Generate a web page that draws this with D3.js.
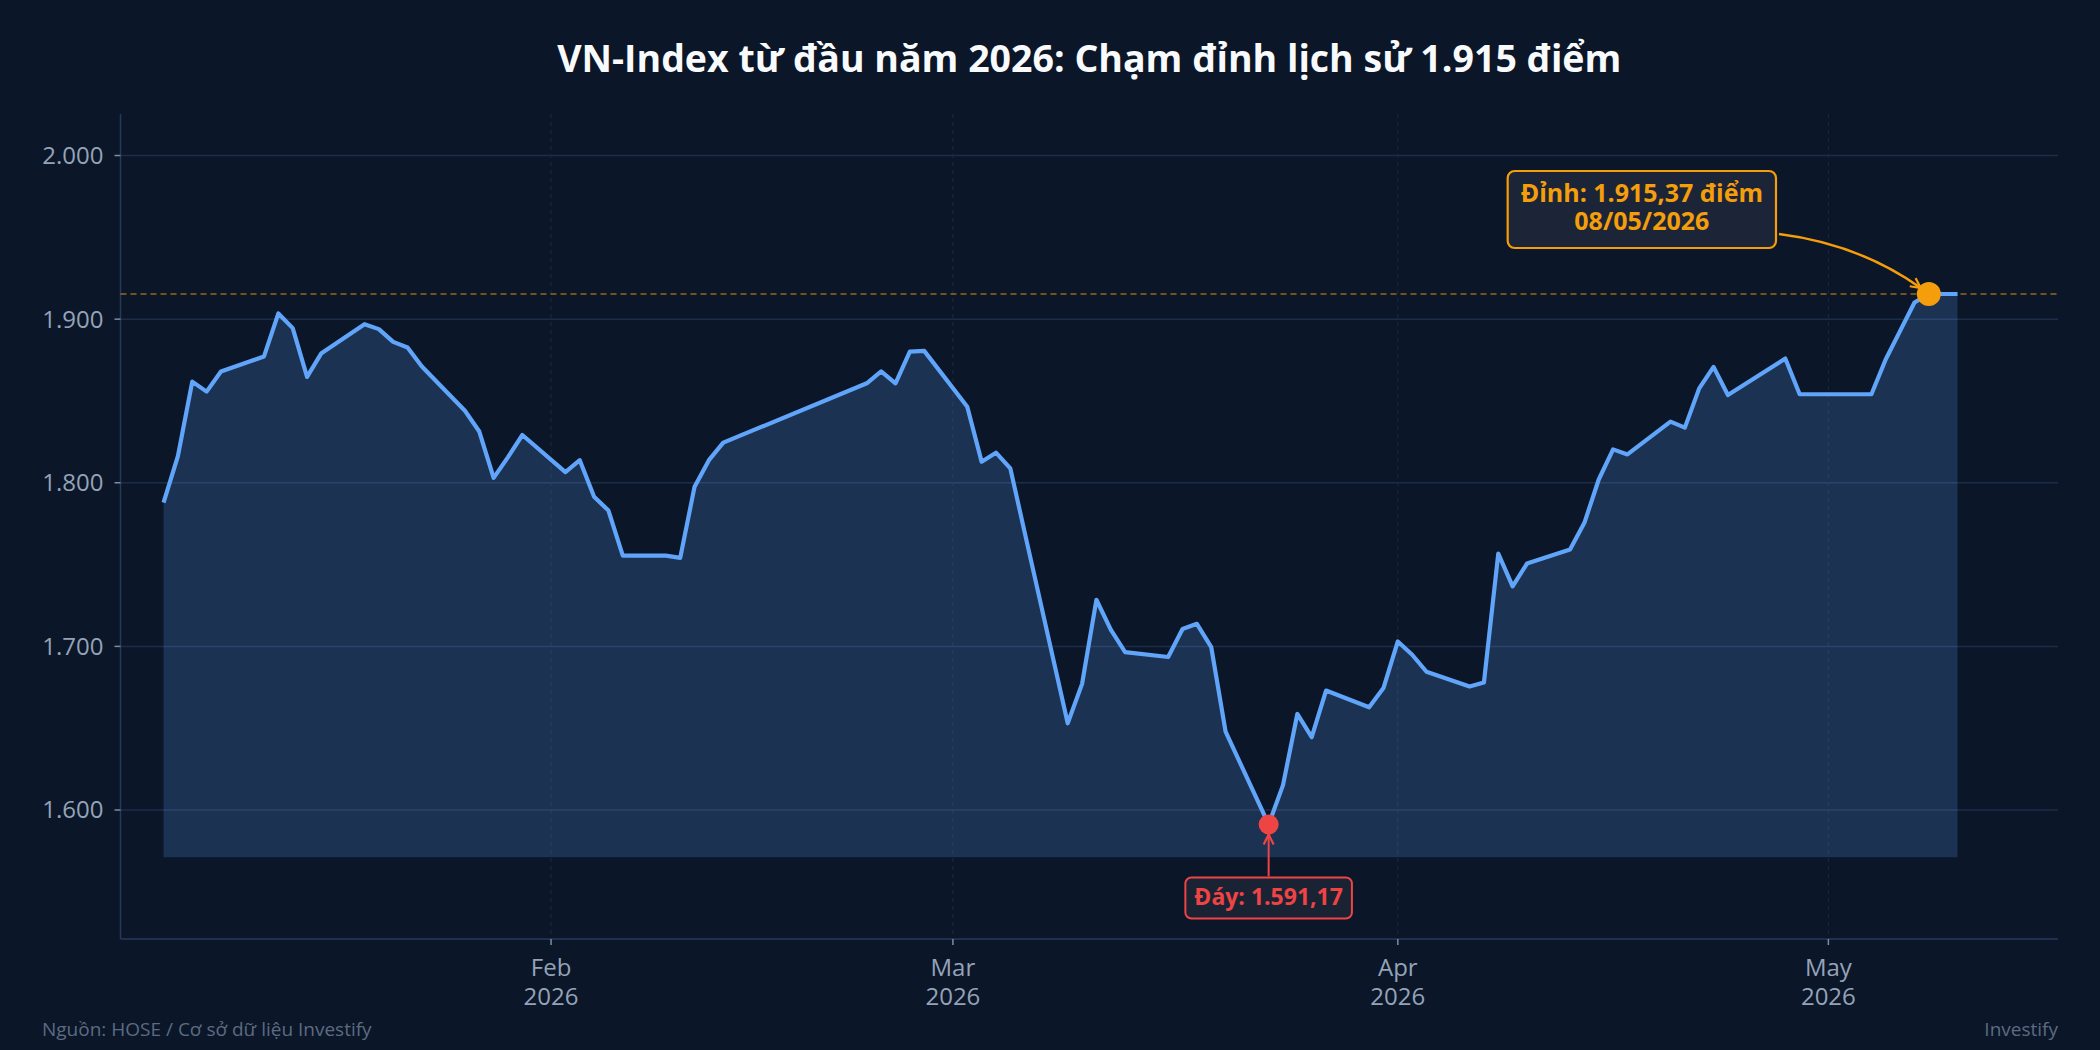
<!DOCTYPE html>
<html>
<head>
<meta charset="utf-8">
<script src="https://cdn.jsdelivr.net/npm/d3@7"></script>
<style>
  html, body { margin: 0; padding: 0; background: #0b1628; }
  svg { display: block; font-family: "Open Sans", "Noto Sans", sans-serif; }
</style>
</head>
<body>
<svg id="chart" width="2100" height="1050"></svg>
<script>
// VN-Index closing values, trading days only
const dates = [
  '2026-01-05', '2026-01-06', '2026-01-07', '2026-01-08', '2026-01-09',
  '2026-01-12', '2026-01-13', '2026-01-14', '2026-01-15', '2026-01-16',
  '2026-01-19', '2026-01-20', '2026-01-21', '2026-01-22', '2026-01-23',
  '2026-01-26', '2026-01-27', '2026-01-28', '2026-01-29', '2026-01-30',
  '2026-02-02', '2026-02-03', '2026-02-04', '2026-02-05', '2026-02-06',
  '2026-02-09', '2026-02-10', '2026-02-11', '2026-02-12', '2026-02-13',
  '2026-02-23', '2026-02-24', '2026-02-25', '2026-02-26', '2026-02-27',
  '2026-03-02', '2026-03-03', '2026-03-04', '2026-03-05', '2026-03-06',
  '2026-03-09', '2026-03-10', '2026-03-11', '2026-03-12', '2026-03-13',
  '2026-03-16', '2026-03-17', '2026-03-18', '2026-03-19', '2026-03-20',
  '2026-03-23', '2026-03-24', '2026-03-25', '2026-03-26', '2026-03-27',
  '2026-03-30', '2026-03-31', '2026-04-01', '2026-04-02', '2026-04-03',
  '2026-04-06', '2026-04-07', '2026-04-08', '2026-04-09', '2026-04-10',
  '2026-04-13', '2026-04-14', '2026-04-15', '2026-04-16', '2026-04-17',
  '2026-04-20', '2026-04-21', '2026-04-22', '2026-04-23', '2026-04-24',
  '2026-04-28', '2026-04-29',
  '2026-05-04', '2026-05-05', '2026-05-06', '2026-05-07', '2026-05-08',
  '2026-05-10'
];

const values = [
  1787.8, 1816.3, 1861.8, 1855.7, 1868.0,
  1877.2, 1903.5, 1894.5, 1864.7, 1879.2,
  1896.9, 1893.9, 1886.1, 1882.7, 1871.0,
  1844.0, 1831.3, 1803.0, 1815.7, 1829.2,
  1806.5, 1813.8, 1791.5, 1783.0, 1755.5,
  1755.5, 1754.1, 1797.6, 1813.8, 1824.5,
  1860.8, 1868.0, 1860.8, 1880.2, 1880.6,
  1846.5, 1812.9, 1818.4, 1808.8, 1769.7,
  1653.0, 1677.1, 1728.5, 1710.2, 1696.5,
  1693.5, 1710.6, 1713.8, 1699.6, 1647.9,
  1591.17, 1615.2, 1658.7, 1644.5, 1673.0,
  1662.8, 1674.5, 1703.0, 1694.9, 1684.5,
  1675.5, 1677.9, 1756.7, 1736.7, 1750.6,
  1759.2, 1775.5, 1802.0, 1820.4, 1817.3,
  1837.4, 1833.7, 1857.7, 1870.8, 1853.6,
  1875.9, 1854.1,
  1854.1, 1875.5, 1892.8, 1910.2, 1915.37,
  1915.37
];

const yTicks = [1600, 1700, 1800, 1900, 2000];
const monthTicks = ['2026-02-01', '2026-03-01', '2026-04-01', '2026-05-01'];

const peakDate = '2026-05-08';
const peakValue = 1915.37;
const troughDate = '2026-03-23';
const troughValue = 1591.17;

const titleText = 'VN-Index từ đầu năm 2026: Chạm đỉnh lịch sử 1.915 điểm';
const sourceText = 'Nguồn: HOSE / Cơ sở dữ liệu Investify';
const brandText = 'Investify';

// ---------------------------------------------------------------

const width = 2100;
const height = 1050;
const margin = { top: 114, right: 42, bottom: 111, left: 120.5 };

const parse = d3.timeParse('%Y-%m-%d');
const vn = d3.formatLocale({ decimal: ',', thousands: '.', grouping: [3], currency: ['', ' đ'] });
const fmtInt = vn.format(',.0f');
const fmt2 = vn.format(',.2f');

const data = dates.map((d, i) => ({ date: parse(d), value: values[i] }));

const x = d3.scaleTime()
  .domain([d3.timeDay.offset(data[0].date, -3), d3.timeDay.offset(data[data.length - 1].date, 7)])
  .range([margin.left, width - margin.right]);

const y = d3.scaleLinear()
  .domain([troughValue - 70, peakValue + 110])
  .range([height - margin.bottom, margin.top]);

const svg = d3.select('#chart');
const x0 = margin.left, x1 = width - margin.right;
const yTop = margin.top, yBottom = height - margin.bottom;

svg.append('rect').attr('width', width).attr('height', height).attr('fill', '#0b1628');

// horizontal grid
svg.append('g').selectAll('line').data(yTicks).join('line')
  .attr('x1', x0).attr('x2', x1)
  .attr('y1', d => y(d)).attr('y2', d => y(d))
  .attr('stroke', '#1c2d4b').attr('stroke-width', 1.5);

// vertical grid at months
svg.append('g').selectAll('line').data(monthTicks).join('line')
  .attr('x1', d => x(parse(d))).attr('x2', d => x(parse(d)))
  .attr('y1', yTop).attr('y2', yBottom)
  .attr('stroke', '#1a2942').attr('stroke-width', 1)
  .attr('stroke-dasharray', '4,4');

// axis lines
svg.append('line').attr('x1', x0).attr('x2', x0).attr('y1', yTop).attr('y2', yBottom)
  .attr('stroke', '#243a5c').attr('stroke-width', 1.5);
svg.append('line').attr('x1', x0).attr('x2', x1).attr('y1', yBottom).attr('y2', yBottom)
  .attr('stroke', '#243a5c').attr('stroke-width', 1.5);

// y ticks + labels
const yAxis = svg.append('g');
yAxis.selectAll('line').data(yTicks).join('line')
  .attr('x1', x0 - 6).attr('x2', x0)
  .attr('y1', d => y(d)).attr('y2', d => y(d))
  .attr('stroke', '#7d8ca3').attr('stroke-width', 1.5);
yAxis.selectAll('text').data(yTicks).join('text')
  .attr('x', x0 - 17).attr('y', d => y(d)).attr('dy', '0.35em')
  .attr('text-anchor', 'end')
  .attr('font-size', 24).attr('fill', '#94a3b8')
  .text(d => fmtInt(d));

// x ticks + labels
const xAxis = svg.append('g');
xAxis.selectAll('line').data(monthTicks).join('line')
  .attr('x1', d => x(parse(d))).attr('x2', d => x(parse(d)))
  .attr('y1', yBottom).attr('y2', yBottom + 6)
  .attr('stroke', '#7d8ca3').attr('stroke-width', 1.5);
const xLabels = xAxis.selectAll('text').data(monthTicks).join('text')
  .attr('text-anchor', 'middle')
  .attr('font-size', 24).attr('fill', '#94a3b8');
xLabels.append('tspan')
  .attr('x', d => x(parse(d))).attr('y', yBottom + 37)
  .text(d => d3.timeFormat('%b')(parse(d)));
xLabels.append('tspan')
  .attr('x', d => x(parse(d))).attr('y', yBottom + 66)
  .text(d => d3.timeFormat('%Y')(parse(d)));

// area + line
const area = d3.area()
  .x(d => x(d.date))
  .y0(y(troughValue - 20))
  .y1(d => y(d.value));

const line = d3.line()
  .x(d => x(d.date))
  .y(d => y(d.value));

svg.append('path').datum(data)
  .attr('d', area)
  .attr('fill', 'rgba(96,165,250,0.2)');

// dashed reference line at the peak
svg.append('line')
  .attr('x1', x0).attr('x2', x1)
  .attr('y1', y(peakValue)).attr('y2', y(peakValue))
  .attr('stroke', '#f59e0b').attr('stroke-opacity', 0.6)
  .attr('stroke-width', 1.5).attr('stroke-dasharray', '6,4');

svg.append('path').datum(data)
  .attr('d', line)
  .attr('fill', 'none')
  .attr('stroke', '#60a5fa')
  .attr('stroke-width', 4.2)
  .attr('stroke-linejoin', 'round');

// arrow heads (open chevrons)
const defs = svg.append('defs');
[['head-amber', '#f59e0b'], ['head-red', '#ef4444']].forEach(([id, c]) => {
  defs.append('marker')
    .attr('id', id)
    .attr('viewBox', '-12 -7 14 14')
    .attr('refX', 0).attr('refY', 0)
    .attr('markerWidth', 14).attr('markerHeight', 14)
    .attr('markerUnits', 'userSpaceOnUse')
    .attr('orient', 'auto')
    .append('path')
    .attr('d', 'M-10,-5 L0,0 L-10,5')
    .attr('fill', 'none').attr('stroke', c).attr('stroke-width', 2.2);
});

// peak annotation (two lines, box sized from the text)
const px = x(parse(peakDate)), py = y(peakValue);
const peakG = svg.append('g');
const peakLines = [`Đỉnh: ${fmt2(peakValue)} điểm`, d3.timeFormat('%d/%m/%Y')(parse(peakDate))];
peakG.selectAll('text').data(peakLines).join('text')
  .attr('x', px - 287).attr('y', (d, i) => py - 92 + i * 28)
  .attr('text-anchor', 'middle')
  .attr('font-size', 25).attr('font-weight', 700).attr('fill', '#f59e0b')
  .text(d => d);
const pb = peakG.node().getBBox();
peakG.insert('rect', 'text')
  .attr('x', pb.x - 13).attr('y', py - 123)
  .attr('width', pb.width + 26).attr('height', 77)
  .attr('rx', 7)
  .attr('fill', '#1c2538').attr('stroke', '#f59e0b').attr('stroke-width', 2.2);

const ax0 = pb.x + pb.width + 16, ay0 = py - 60;
const ax1 = px - 8, ay1 = py - 6;
svg.append('path')
  .attr('d', `M${ax0},${ay0} Q${ax0 + 80},${ay0 + 10} ${ax1},${ay1}`)
  .attr('fill', 'none').attr('stroke', '#f59e0b').attr('stroke-width', 2.5)
  .attr('marker-end', 'url(#head-amber)');

// trough annotation
const tx = x(parse(troughDate)), ty = y(troughValue);
const troughG = svg.append('g');
const troughText = troughG.append('text')
  .attr('x', tx).attr('y', ty + 81)
  .attr('text-anchor', 'middle')
  .attr('font-size', 23).attr('font-weight', 700).attr('fill', '#ef4444')
  .text(`Đáy: ${fmt2(troughValue)}`);
const tb = troughText.node().getBBox();
troughG.insert('rect', 'text')
  .attr('x', tb.x - 9).attr('y', ty + 53)
  .attr('width', tb.width + 18).attr('height', 41)
  .attr('rx', 6)
  .attr('fill', '#1a2334').attr('stroke', '#ef4444').attr('stroke-width', 2);

svg.append('line')
  .attr('x1', tx).attr('x2', tx)
  .attr('y1', ty + 52).attr('y2', ty + 10)
  .attr('stroke', '#ef4444').attr('stroke-width', 2)
  .attr('marker-end', 'url(#head-red)');

// markers
svg.append('circle').attr('cx', tx).attr('cy', ty).attr('r', 10).attr('fill', '#ef4444');
svg.append('circle').attr('cx', px).attr('cy', py).attr('r', 12).attr('fill', '#f59e0b');

// title + footer
svg.append('text')
  .attr('x', (x0 + x1) / 2).attr('y', 72)
  .attr('text-anchor', 'middle')
  .attr('font-size', 37.5).attr('font-weight', 700).attr('fill', '#f8fafc')
  .text(titleText);

svg.append('text')
  .attr('x', 42).attr('y', 1036)
  .attr('font-size', 19).attr('fill', '#5b6b82')
  .text(sourceText);

svg.append('text')
  .attr('x', x1).attr('y', 1036)
  .attr('text-anchor', 'end')
  .attr('font-size', 19).attr('fill', '#5b6b82')
  .text(brandText);
</script>
</body>
</html>
